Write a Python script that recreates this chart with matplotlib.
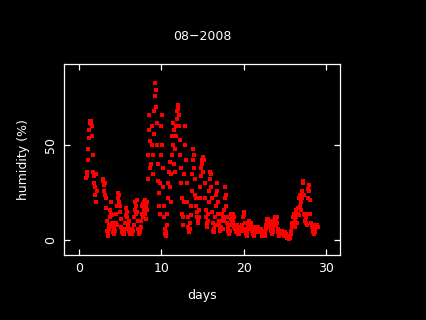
import numpy as np
import matplotlib
matplotlib.use("Agg")
import matplotlib.pyplot as plt

nan = np.nan
# 1.5-hourly humidity readings (%), starting at day 0.875
start_day = 0.875
step = 1.0 / 16
day00 = [33, 34]
day01 = [36, 42, 48, 54, 58, 62, 63, 61, 63, 60, 55, 45, 36, 30, 34, 28]
day02 = [24, 35, 20, 26, nan, nan, nan, nan, nan, nan, nan, nan, nan, nan, 31, 32]
day03 = [29, 26, 30, 24, 22, 17, 10, 5, 2, 4, 8, 6, 12, 16, 20, 14]
day04 = [9, 13, 7, 4, 3, 6, 5, 9, 14, 8, 18, 22, 25, 20, 24, 15]
day05 = [18, 11, 7, 5, 4, 3, 5, 4, 3, 6, 9, 13, 17, 12, 15, 8]
day06 = [6, 10, 5, 4, 3, 5, 4, 6, 3, 5, 8, 12, 16, 20, 14, 18]
day07 = [21, 15, 10, 6, 4, 3, 5, 4, 7, 10, 14, 18, 12, 19, 16, 20]
day08 = [21, 14, 18, 11, 16, 20, 32, 45, 58, 66, 38, 52, 40, 60, 50, 35]
day09 = [45, 56, 68, 76, 83, 79, 70, 62, 50, 40, 31, 25, 18, 14, 30, 45]
day10 = [60, 66, 50, 38, 28, 18, 12, 6, 3, 2, 4, 8, 14, 22, 30, 36]
day11 = [41, 28, 35, 20, 45, 55, 62, 50, 40, 58, 36, 48, 60, 55, 64, 68]
day12 = [71, 69, 66, 60, 53, 45, 38, 30, 22, 14, 8, 12, 20, 35, 50, 60]
day13 = [42, 30, 20, 12, 7, 5, 4, 6, 9, 13, 18, 26, 35, 42, 48, 45]
day14 = [38, 32, 24, 18, 22, 15, 12, 10, 9, 12, 16, 22, 28, 34, 38, 42]
day15 = [40, 44, 36, 42, 30, 22, 16, 12, 9, 7, 10, 14, 20, 26, 32, 36]
day16 = [35, 28, 22, 15, 9, 5, 4, 6, 8, 12, 18, 24, 30, 26, 20, 14]
day17 = [10, 8, 6, 5, 7, 10, 14, 12, 6, 10, 16, 22, 28, 24, 18, 12]
day18 = [9, 7, 5, 4, 3, 5, 8, 11, 14, 12, 9, 14, 10, 7, 12, 8]
day19 = [6, 5, 4, 6, 8, 5, 3, 4, 3, 5, 7, 6, 5, 8, 6, 12]
day20 = [15, 13, 9, 6, 4, 3, 2, 4, 6, 8, 10, 7, 9, 8, 6, 9]
day21 = [7, 5, 4, 3, 2, 3, 4, 5, 6, 7, 6, 7, 5, 4, 6, 5]
day22 = [4, 6, 5, 3, 2, 4, 3, 5, 3, 2, 4, 6, 8, 10, 11, 9]
day23 = [11, 9, 7, 8, 10, 7, 5, 4, 3, 4, 6, 8, 10, 12, 11, 8]
day24 = [12, 9, 6, 4, 3, 2, 3, 5, 4, 3, 5, 4, 3, 4, 2, 3]
day25 = [4, 3, 2, 3, 2, 1, 2, 1, 0.5, 1, 2, 1, 3, 5, 7, 9]
day26 = [12, 8, 14, 10, 7, 12, 16, 13, 9, 14, 17, 22, 13, 18, 24, 20]
day27 = [16, 22, 26, 30, 31, 24, 14, 10, 13, 9, 12, 8, 14, 22, 27, 29]
day28 = [26, 21, 14, 9, 7, 8, 6, 4, 5, 3, 4, 6, 7, 8, 7, 8]
day29 = [7]

humidity = np.array(day00 + day01 + day02 + day03 + day04 + day05 + day06 +
                     day07 + day08 + day09 + day10 + day11 + day12 + day13 +
                     day14 + day15 + day16 + day17 + day18 + day19 + day20 +
                     day21 + day22 + day23 + day24 + day25 + day26 + day27 +
                     day28 + day29, dtype=float)
days = start_day + step * np.arange(len(humidity))

x_ticks = [0, 10, 20, 30]
y_ticks = [0, 50]

fig = plt.figure(figsize=(4.26, 3.2), dpi=100, facecolor="black")
ax = fig.add_axes([64/426, 65/320, 276/426, 191/320], facecolor="black")

ax.plot(days, humidity, linestyle="none", marker="s", markersize=2.3,
        markeredgewidth=0, color="#ff0000")

ax.set_xlim(-1.82, 31.71)
ax.set_ylim(-7.9, 92.9)
ax.set_xticks(x_ticks)
ax.set_yticks(y_ticks)
ax.set_yticklabels([str(v) for v in y_ticks], rotation=90, va="center")

for s in ax.spines.values():
    s.set_color("white")
    s.set_linewidth(0.9)
ax.tick_params(direction="in", length=4.3, width=0.9, colors="white",
               top=True, right=True, labelsize=9, pad=5)

ax.set_title("08\u22122008", color="white", fontsize=9, pad=17)
ax.set_xlabel("days", color="white", fontsize=9, labelpad=10)
ax.set_ylabel("humidity (%)", color="white", fontsize=9, labelpad=10)

fig.savefig("out.png", dpi=100, facecolor="black")
